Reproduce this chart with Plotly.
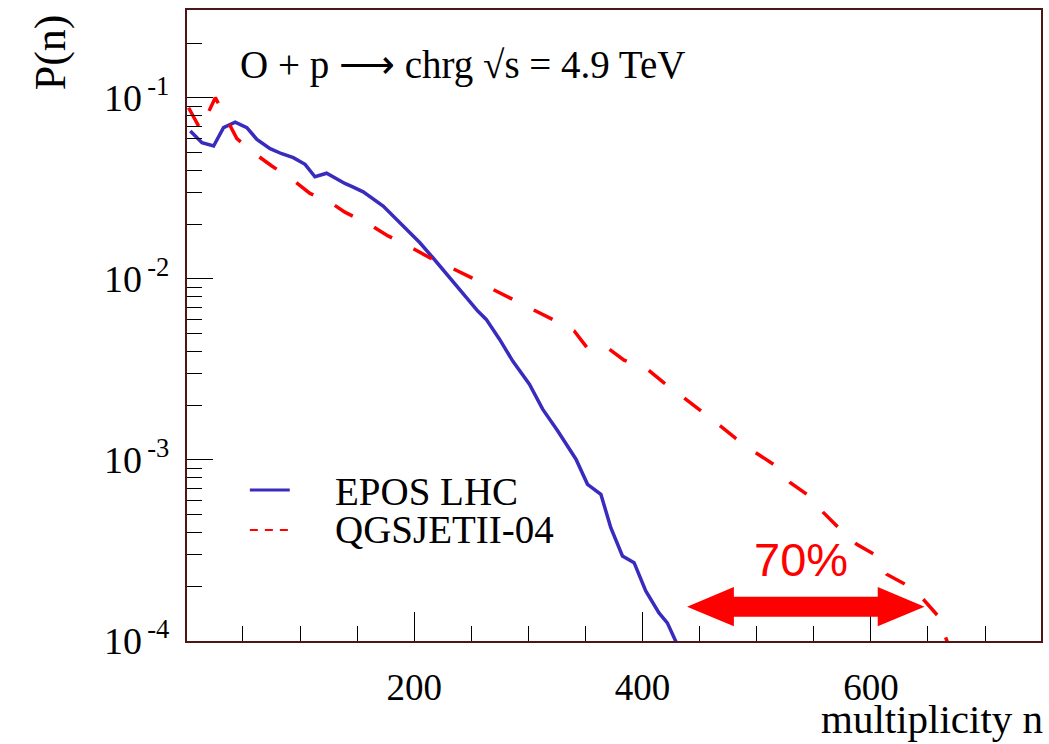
import plotly.graph_objects as go

# ---- data ----
epos_n = [3.9, 14.1, 24.3, 33.0, 43.2, 53.4, 62.2, 73.8, 84.0, 94.1, 104.4, 113.1, 123.3,
          139.3, 146.6, 155.3, 172.8, 187.3, 204.8, 216.4, 231.0, 245.6, 255.7, 263.1,
          274.7, 286.3, 300.9, 312.5, 325.6, 341.7, 351.8, 363.5, 372.2, 382.4, 392.6,
          402.8, 414.4, 421.7, 429.0, 433.0]
epos_p = [0.0657, 0.0566, 0.0543, 0.0686, 0.0736, 0.0686, 0.0591, 0.0525, 0.0492, 0.0468,
          0.0430, 0.0367, 0.0384, 0.0337, 0.0322, 0.0303, 0.0253, 0.0205, 0.0159, 0.0131,
          0.01017, 0.00788, 0.00665, 0.00598, 0.00465, 0.00352, 0.00262, 0.00191, 0.00145,
          0.00101, 0.000734, 0.000646, 0.000423, 0.000295, 0.000271, 0.000189, 0.000143,
          0.000126, 0.0000980, 0.0000880]

qgs_n = [2.4, 12.7, 25.8, 44.7, 59.2, 75.3, 92.8, 108.7, 124.7, 139.3, 161.1, 177.1,
         196.1, 213.5, 232.5, 250.0, 268.8, 284.9, 303.8, 321.2, 340.2, 351.8, 369.3,
         383.8, 404.2, 418.8, 436.2, 450.8, 468.3, 481.4, 498.9, 514.8, 529.4, 543.9,
         558.5, 571.6, 587.6, 602.2, 613.8, 629.9, 645.9, 659.0, 667.1, 672.0]
qgs_p = [0.0883, 0.0671, 0.1004, 0.0596, 0.0499, 0.0421, 0.0356, 0.0297, 0.0270, 0.0234,
         0.0200, 0.0173, 0.01507, 0.01312, 0.01153, 0.01017, 0.00877, 0.00782, 0.00680,
         0.00598, 0.00516, 0.00414, 0.00417, 0.00356, 0.00317, 0.00267, 0.00221, 0.00188,
         0.00154, 0.00132, 0.00110, 0.000946, 0.000750, 0.000646, 0.000512, 0.000423,
         0.000342, 0.000303, 0.000234, 0.000206, 0.000170, 0.000137, 0.000100, 0.0000800]

series_names = ["EPOS LHC", "QGSJETII-04"]

y_major = [1e-4, 1e-3, 1e-2, 1e-1]
y_labels = ["10<sup>\u2009-4</sup>", "10<sup>\u2009-3</sup>",
            "10<sup>\u2009-2</sup>", "10<sup>\u2009-1</sup>"]
x_major = [200, 400, 600]
x_labels = ["200", "400", "600"]

# annotation: the 70% range arrow
arrow_n = [439, 480, 606, 647]
arrow_label = "70%"

SERIF = "Liberation Serif"
FRAME = "#4e1616"
BLUE = "#3a2bbf"
RED = "#ff0000"
W, H = 1049, 744
L, R, T, B = 187, 6, 10, 103
PW, PH = W - L - R, H - T - B


def px(xp):
    return (xp - L) / PW


def py(yp):
    return (H - B - yp) / PH


fig = go.Figure()
fig.add_trace(go.Scatter(x=epos_n, y=epos_p, mode="lines", name=series_names[0],
                         showlegend=False, line=dict(color=BLUE, width=3.5)))
fig.add_trace(go.Scatter(x=qgs_n, y=qgs_p, mode="lines", name=series_names[1],
                         showlegend=False,
                         line=dict(color=RED, width=3.5, dash="21px,24px")))

minor_y = [m * 10.0 ** e for e in range(-4, 0) for m in range(2, 10)]
minor_y = [v for v in minor_y if v < 0.3]

fig.update_xaxes(range=[1, 749], showline=True, linecolor=FRAME, linewidth=2, mirror=True,
                 showgrid=False, zeroline=False, ticks="inside", ticklen=29, tickwidth=1,
                 tickcolor="black", tickvals=x_major, ticktext=x_labels,
                 tickfont=dict(family=SERIF, size=37, color="black"),
                 ticklabelstandoff=13,
                 minor=dict(ticks="inside", ticklen=15, dtick=50, tick0=0,
                            tickcolor="black", tickwidth=1, showgrid=False))
fig.update_yaxes(type="log", range=[-4, -0.514], showline=True, linecolor=FRAME,
                 linewidth=2, mirror=True, showgrid=False, zeroline=False,
                 ticks="inside", ticklen=26, tickwidth=1, tickcolor="black",
                 tickvals=y_major, ticktext=y_labels,
                 tickfont=dict(family=SERIF, size=38, color="black"),
                 ticklabelstandoff=8,
                 minor=dict(ticks="inside", ticklen=15, tickvals=minor_y,
                            tickcolor="black", tickwidth=1, showgrid=False))

# arrow shape (x in data units, y in paper fraction)
yc, hs, hh = 0.0544, 0.0159, 0.0312
path = (f"M {arrow_n[0]},{yc} L {arrow_n[1]},{yc+hh} L {arrow_n[1]},{yc+hs} "
        f"L {arrow_n[2]},{yc+hs} L {arrow_n[2]},{yc+hh} L {arrow_n[3]},{yc} "
        f"L {arrow_n[2]},{yc-hh} L {arrow_n[2]},{yc-hs} L {arrow_n[1]},{yc-hs} "
        f"L {arrow_n[1]},{yc-hh} Z")
fig.add_shape(type="path", path=path, xref="x", yref="paper",
              fillcolor=RED, line=dict(width=0))

# hand-drawn legend (to match the reference's spacing)
fig.add_shape(type="line", xref="paper", yref="paper", x0=px(250), x1=px(290),
              y0=py(490), y1=py(490), line=dict(color=BLUE, width=3))
fig.add_shape(type="line", xref="paper", yref="paper", x0=px(250), x1=px(292),
              y0=py(530), y1=py(530), line=dict(color=RED, width=2, dash="8px,7px"))
fig.add_annotation(text=series_names[0], x=px(333), y=py(491), xref="paper", yref="paper",
                   showarrow=False, xanchor="left", yanchor="middle",
                   font=dict(family=SERIF, size=39, color="black"))
fig.add_annotation(text=series_names[1], x=px(333), y=py(529), xref="paper", yref="paper",
                   showarrow=False, xanchor="left", yanchor="middle",
                   font=dict(family=SERIF, size=39, color="black"))

fig.add_annotation(text=arrow_label, x=539, y=-3.547, xref="x", yref="y",
                   showarrow=False, font=dict(family="Liberation Sans", size=47, color=RED))
fig.add_annotation(text="O + p \u27f6 chrg \u221as = 4.9 TeV", x=px(238), y=py(65),
                   xref="paper", yref="paper",
                   showarrow=False, xanchor="left", yanchor="middle",
                   font=dict(family=SERIF, size=39, color="black"))
fig.add_annotation(text="multiplicity n", x=px(1047), y=py(719), xref="paper", yref="paper",
                   showarrow=False, xanchor="right", yanchor="middle",
                   font=dict(family=SERIF, size=41, color="black"))
fig.add_annotation(text="P(n)", x=px(50), y=py(12), xref="paper", yref="paper",
                   showarrow=False, textangle=-90, xanchor="center", yanchor="top",
                   font=dict(family=SERIF, size=44, color="black"))

fig.update_layout(width=W, height=H, margin=dict(l=L, r=R, t=T, b=B),
                  paper_bgcolor="white", plot_bgcolor="white",
                  font=dict(family=SERIF, color="black"), showlegend=False)
fig.write_html("out.html")
